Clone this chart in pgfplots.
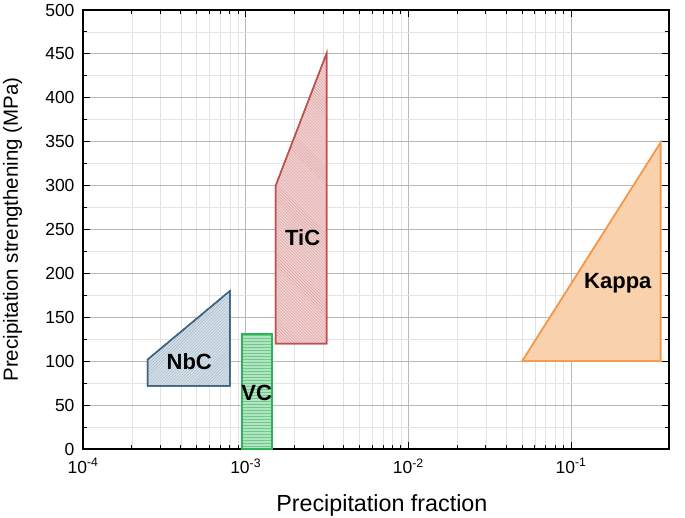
\documentclass[border=0pt]{standalone}
\usepackage{pgfplots}
\pgfplotsset{compat=1.18}
\usepackage{fontspec}
\setmainfont{Liberation Sans}
\usetikzlibrary{patterns}

\definecolor{nbcedge}{HTML}{3E6380}
\definecolor{nbcfill}{HTML}{D3E0E8}
\definecolor{vcedge}{HTML}{2DB35A}
\definecolor{vcfill}{HTML}{B4E3C1}
\definecolor{ticedge}{HTML}{C0504D}
\definecolor{ticfill}{HTML}{F0D2D2}
\definecolor{kapedge}{HTML}{F79646}
\definecolor{kapfill}{HTML}{F9D3AF}

\begin{document}
\begin{tikzpicture}
\useasboundingbox (0,0) rectangle (685bp,518bp);
\begin{axis}[
    at={(83bp,69bp)}, anchor=south west,
    scale only axis,
    width=586bp, height=439bp,
    xmode=log,
    xmin=1e-4, xmax=0.4,
    ymin=0, ymax=500,
    xtick={1e-4,1e-3,1e-2,1e-1},
    xticklabels={10\textsuperscript{-4},10\textsuperscript{-3},10\textsuperscript{-2},10\textsuperscript{-1}},
    ytick={0,50,...,500},
    minor ytick={25,75,...,475},
    grid=both,
    major grid style={gray!55, line width=0.8bp},
    minor grid style={gray!22, line width=0.8bp},
    tick align=inside,
    tick pos=both,
    major tick length=7bp,
    minor tick length=4bp,
    tick style={black, line width=1bp},
    axis line style={black, line width=1.6bp},
    tick label style={font=\fontsize{17.5bp}{19bp}\selectfont},
    /pgf/number format/assume math mode=true,
    xlabel={Precipitation fraction},
    ylabel={Precipitation strengthening (MPa)},
    xlabel style={font=\fontsize{23.3bp}{25bp}\selectfont,
      at={(axis description cs:0.51,-0.128)}, anchor=center},
    ylabel style={font=\fontsize{20.5bp}{22bp}\selectfont,
      at={(axis description cs:-0.12,0.5)}, anchor=center},
    xticklabel style={yshift=-6bp},
    yticklabel style={xshift=-5bp},
    clip=false,
]
% NbC
\addplot[draw=nbcedge, line width=1.5bp, fill=nbcfill,
  postaction={pattern=north east lines, pattern color=nbcedge!45}]
  coordinates {(2.5e-4,72) (2.5e-4,102) (8e-4,180) (8e-4,72)} -- cycle;
% VC
\addplot[draw=vcedge, line width=1.5bp, fill=vcfill,
  postaction={pattern=horizontal lines, pattern color=vcedge!70}]
  coordinates {(9.5e-4,0) (9.5e-4,131) (1.45e-3,131) (1.45e-3,0)} -- cycle;
% TiC
\addplot[draw=ticedge, line width=1.5bp, fill=ticfill,
  postaction={pattern=north west lines, pattern color=ticedge!55}]
  coordinates {(1.53e-3,120) (1.53e-3,300) (3.15e-3,451) (3.15e-3,120)} -- cycle;
% Kappa
\addplot[draw=kapedge, line width=1.5bp, fill=kapfill,
  postaction={pattern=crosshatch dots, pattern color=kapedge!50}]
  coordinates {(0.05,100) (0.355,349) (0.355,100)} -- cycle;

\node[font=\fontsize{22bp}{24bp}\selectfont\bfseries] at (axis cs:4.5e-4,99) {NbC};
\node[font=\fontsize{22bp}{24bp}\selectfont\bfseries] at (axis cs:1.17e-3,64) {VC};
\node[font=\fontsize{22bp}{24bp}\selectfont\bfseries] at (axis cs:2.24e-3,241) {TiC};
\node[font=\fontsize{22bp}{24bp}\selectfont\bfseries] at (axis cs:0.194,189) {Kappa};
\end{axis}
\end{tikzpicture}
\end{document}
